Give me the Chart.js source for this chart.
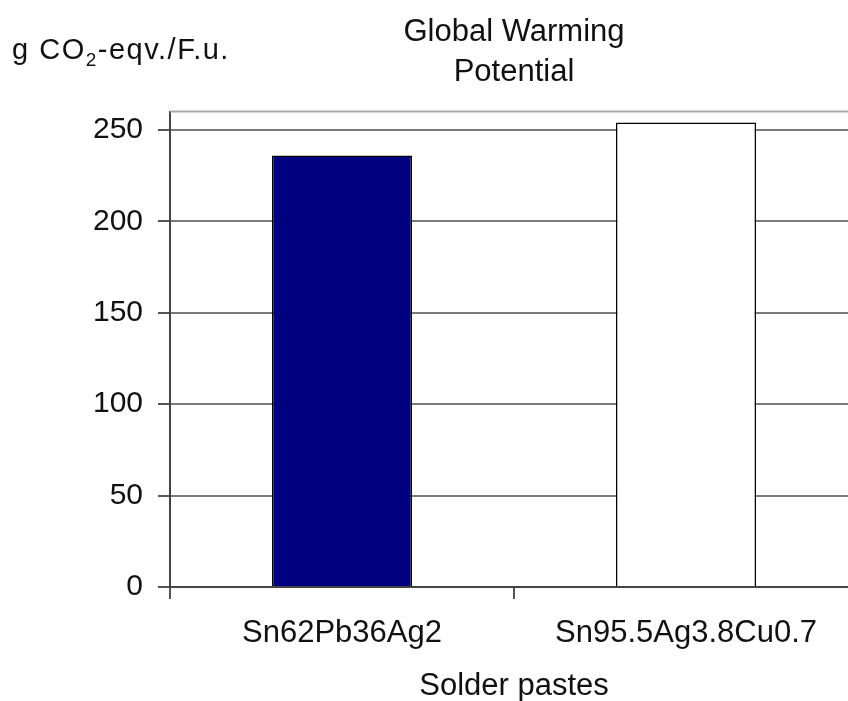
<!DOCTYPE html>
<html>
<head>
<meta charset="utf-8">
<title>Global Warming Potential</title>
<script src="https://cdn.jsdelivr.net/npm/chart.js@4.4.1/dist/chart.umd.min.js"></script>
<style>
  html, body { margin: 0; padding: 0; background: #fff; overflow: hidden; }
  #wrap { width: 870px; height: 701px; }
</style>
</head>
<body>
<div id="wrap"><canvas id="myChart"></canvas></div>
<script>
// datos
const pastas = ["Sn62Pb36Ag2", "Sn95.5Ag3.8Cu0.7"];
const gwp = [236, 254];
const coloresBarra = ["#000080", "#ffffff"];
const ticksY = [0, 50, 100, 150, 200, 250];
const maxY = 260;

const fuente = "'Liberation Sans', Arial, sans-serif";
Chart.defaults.font.family = fuente;
Chart.defaults.color = "#111";

// titulo del eje y (con subindice) y borde superior del area
const extras = {
    id: "extras",
    afterDraw(chart) {
        const { ctx, chartArea } = chart;
        ctx.save();
        ctx.strokeStyle = "#aaaaaa";
        ctx.lineWidth = 2;
        ctx.beginPath();
        ctx.moveTo(chartArea.left, chartArea.top);
        ctx.lineTo(chartArea.right, chartArea.top);
        ctx.stroke();

        ctx.fillStyle = "#111";
        ctx.textBaseline = "alphabetic";
        ctx.letterSpacing = "1.5px";
        let x = 12;
        ctx.font = "29px " + fuente;
        ctx.fillText("g CO", x, 59);
        x += ctx.measureText("g CO").width;
        ctx.font = "19px " + fuente;
        ctx.fillText("2", x, 66);
        x += ctx.measureText("2").width;
        ctx.font = "29px " + fuente;
        ctx.fillText("-eqv./F.u.", x, 59);
        ctx.restore();
    }
};

const chartDOM = document.querySelector("#myChart");
const myChart = new Chart(chartDOM, {
    type: "bar",
    data: {
        labels: pastas,
        datasets: [{
            data: gwp,
            backgroundColor: coloresBarra,
            borderColor: "#000",
            borderWidth: 1.5,
            barPercentage: 0.407,
            categoryPercentage: 1
        }]
    },
    options: {
        responsive: true,
        maintainAspectRatio: false,
        animation: false,
        layout: { padding: { top: 0, right: 12, bottom: 0, left: 0 } },
        plugins: {
            legend: { display: false },
            tooltip: { enabled: false },
            title: {
                display: true,
                text: ["Global Warming", "Potential"],
                fullSize: false,
                color: "#111",
                font: { size: 31, weight: "normal", lineHeight: 1.3 },
                padding: { top: 12, bottom: 19 }
            }
        },
        scales: {
            x: {
                afterFit: (s) => { s.height = 114; },
                grid: { drawOnChartArea: false, tickLength: 12, color: "#555", lineWidth: 2 },
                border: { color: "#444", width: 2 },
                ticks: { padding: 16, font: { size: 31 } },
                title: {
                    display: true,
                    text: "Solder pastes",
                    font: { size: 31, lineHeight: 0.95 },
                    padding: { top: 0, bottom: 0 }
                }
            },
            y: {
                min: 0,
                max: maxY,
                afterBuildTicks: (s) => { s.ticks = ticksY.map((v) => ({ value: v })); },
                afterFit: (s) => { s.width = 170; },
                grid: { color: "#7a7a7a", lineWidth: 2, tickLength: 12, tickColor: "#555" },
                border: { color: "#444", width: 2 },
                ticks: { padding: 15, font: { size: 30 } }
            }
        }
    },
    plugins: [extras]
});
</script>
</body>
</html>
